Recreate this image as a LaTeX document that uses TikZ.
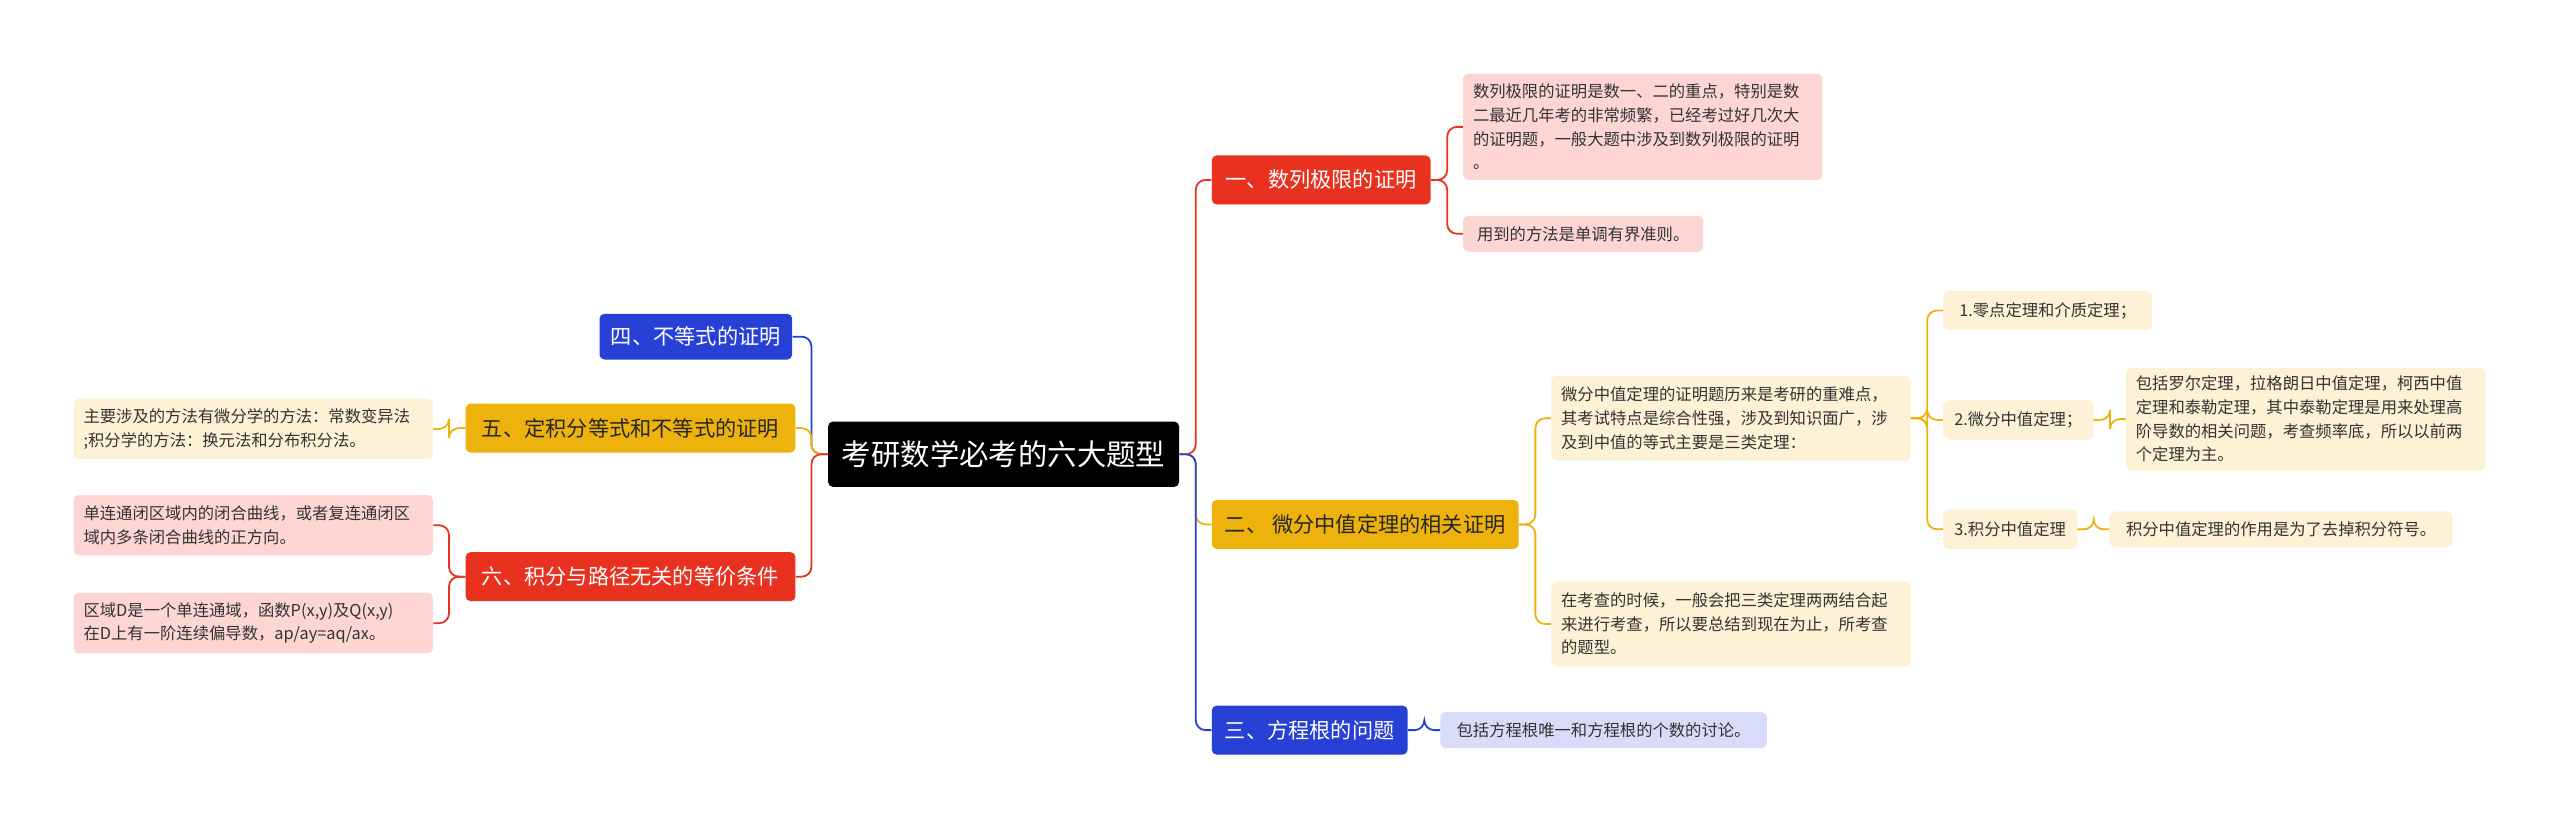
\documentclass[tikz,border=0pt]{standalone}
\usepackage{fontspec}
\setmainfont{Noto Sans CJK SC}
\begin{document}
\begin{tikzpicture}[x=1pt,y=-1pt,
 box/.style={rounded corners=3pt,inner sep=0pt,align=left},
 big/.style={box,font=\fontsize{13}{15}\selectfont,text=white},
 small/.style={box,font=\fontsize{10}{14.5}\selectfont,text=black!80},
 ln/.style={line width=1.1pt,rounded corners=6pt}]
\definecolor{cr}{HTML}{E8311F}\definecolor{cy}{HTML}{EEB20C}\definecolor{cb}{HTML}{2740D6}
\definecolor{pr}{HTML}{FDD6D4}\definecolor{py}{HTML}{FDF2D5}\definecolor{pb}{HTML}{D8DCF8}
\useasboundingbox[fill=white] (0,0) rectangle (1568,508);
\newcommand\bx[6]{\node[#1,fill=#2,minimum width=#5-#3,minimum height=#6-#4,anchor=north west,text width=#5-#3-12,inner xsep=6pt] (#2#3#4) at (#3,#4) {};}
\node[box,fill=black,text=white,font=\fontsize{18}{20}\selectfont,minimum width=215,minimum height=40,anchor=north west] (c) at (507,258) {考研数学必考的六大题型};
% right branches
\node[big,fill=cr,minimum width=134,minimum height=30,anchor=north west] (b1) at (742,95) {一、数列极限的证明};
\node[big,fill=cy,minimum width=188,minimum height=30,anchor=north west,text=black!85] (b2) at (742,306) {二、 微分中值定理的相关证明};
\node[big,fill=cb,minimum width=120,minimum height=30,anchor=north west] (b3) at (742,432) {三、方程根的问题};
\node[big,fill=cb,minimum width=118,minimum height=28,anchor=north west] (b4) at (367,192) {四、不等式的证明};
\node[big,fill=cy,minimum width=202,minimum height=30,anchor=north west,text=black!85] (b5) at (285,247) {五、定积分等式和不等式的证明};
\node[big,fill=cr,minimum width=202,minimum height=30,anchor=north west] (b6) at (285,338) {六、积分与路径无关的等价条件};
% children
\node[small,fill=pr,minimum width=220,minimum height=65,anchor=north west] (n11) at (896,45) {\parbox{208pt}{数列极限的证明是数一、二的重点，特别是数\\二最近几年考的非常频繁，已经考过好几次大\\的证明题，一般大题中涉及到数列极限的证明\\。}};
\node[small,fill=pr,minimum width=147,minimum height=22,anchor=north west] (n12) at (896,132) {用到的方法是单调有界准则。};
\node[small,fill=py,minimum width=220,minimum height=52,anchor=north west] (n21) at (950,230) {\parbox{208pt}{微分中值定理的证明题历来是考研的重难点，\\其考试特点是综合性强，涉及到知识面广，涉\\及到中值的等式主要是三类定理：}};
\node[small,fill=py,minimum width=220,minimum height=52,anchor=north west] (n22) at (950,356) {\parbox{208pt}{在考查的时候，一般会把三类定理两两结合起\\来进行考查，所以要总结到现在为止，所考查\\的题型。}};
\node[small,fill=py,minimum width=128,minimum height=24,anchor=north west] (m1) at (1190,178) {1.零点定理和介质定理；};
\node[small,fill=py,minimum width=92,minimum height=24,anchor=north west] (m2) at (1190,245) {2.微分中值定理；};
\node[small,fill=py,minimum width=82,minimum height=24,anchor=north west] (m3) at (1190,312) {3.积分中值定理};
\node[small,fill=py,minimum width=220,minimum height=63,anchor=north west] (k2) at (1302,225) {\parbox{208pt}{包括罗尔定理，拉格朗日中值定理，柯西中值\\定理和泰勒定理，其中泰勒定理是用来处理高\\阶导数的相关问题，考查频率底，所以以前两\\个定理为主。}};
\node[small,fill=py,minimum width=210,minimum height=22,anchor=north west] (k3) at (1292,313) {积分中值定理的作用是为了去掉积分符号。};
\node[small,fill=pb,minimum width=200,minimum height=22,anchor=north west] (n31) at (882,436) {包括方程根唯一和方程根的个数的讨论。};
\node[small,fill=py,minimum width=220,minimum height=37,anchor=north west] (n51) at (45,244) {\parbox{208pt}{主要涉及的方法有微分学的方法：常数变异法\\;积分学的方法：换元法和分布积分法。}};
\node[small,fill=pr,minimum width=220,minimum height=37,anchor=north west] (n61) at (45,303) {\parbox{208pt}{单连通闭区域内的闭合曲线，或者复连通闭区\\域内多条闭合曲线的正方向。}};
\node[small,fill=pr,minimum width=220,minimum height=37,anchor=north west] (n62) at (45,363) {\parbox{208pt}{区域D是一个单连通域，函数P(x,y)及Q(x,y)\\在D上有一阶连续偏导数，ap/ay=aq/ax。}};
% connectors
\foreach \b/\col in {b1/cr,b2/cy,b3/cb}
 \draw[ln,\col] (c.east) -- ++(10,0) |- (\b.west);
\foreach \b/\col in {b4/cb,b5/cy,b6/cr}
 \draw[ln,\col] (c.west) -- ++(-10,0) |- (\b.east);
\foreach \a/\b/\col in {b1/n11/cr,b1/n12/cr,b2/n21/cy,b2/n22/cy,n21/m1/cy,n21/m2/cy,n21/m3/cy,m2/k2/cy,m3/k3/cy,b3/n31/cb}
 \draw[ln,\col] (\a.east) -- ++(10,0) |- (\b.west);
\foreach \a/\b/\col in {b5/n51/cy,b6/n61/cr,b6/n62/cr}
 \draw[ln,\col] (\a.west) -- ++(-10,0) |- (\b.east);
\end{tikzpicture}
\end{document}
